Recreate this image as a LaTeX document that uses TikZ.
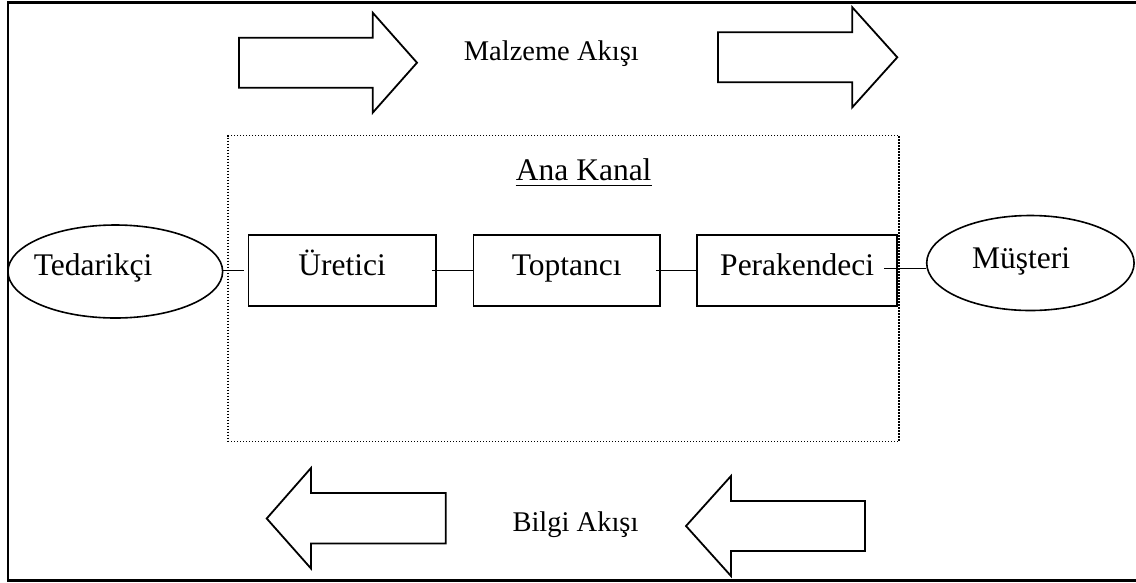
\documentclass[tikz,border=0pt]{standalone}
\usepackage{fontspec}
\setmainfont{Liberation Serif}
\usetikzlibrary{shapes.geometric,calc}
\tikzset{
  frameline/.style={line width=2.4pt},
  flowarrow/.style={draw, line width=1.8pt, line join=miter, fill=white},
  kanalbox/.style={draw, line width=1.3pt, dash pattern=on 1.3pt off 1.7pt, inner sep=0pt},
  stepbox/.style={draw, line width=1.6pt, rectangle, inner sep=0pt, minimum height=71pt,
    font=\fontsize{31.5}{36}\selectfont, text height=15.3pt, text depth=6.3pt},
  endell/.style={draw, line width=1.6pt, ellipse, inner sep=0pt},
  biglbl/.style={inner sep=0pt, font=\fontsize{31.5}{36}\selectfont, anchor=base},
  flowlbl/.style={inner sep=0pt, font=\fontsize{28.5}{34}\selectfont, anchor=base},
  conn/.style={line width=1.8pt}
}
\begin{document}
\begin{tikzpicture}[x=1pt,y=-1pt]
\useasboundingbox (0,0) rectangle (1136,582);
\fill[white] (0,0) rectangle (1136,582);
% outer frame (open on the right, cropped)
\draw[frameline] (1140,2.5) -- (7.8,2.5) -- (7.8,580.5) -- (1140,580.5);

% material flow arrows (top)
\draw[flowarrow] (239,37.7) -- (372.7,37.7) -- (372.7,12.7) -- (417,62.7) -- (372.7,112.7) -- (372.7,87.7) -- (239,87.7) -- cycle;
\draw[flowarrow] (718,32.3) -- (852.3,32.3) -- (852.3,7.3) -- (897.3,57.3) -- (852.3,107.3) -- (852.3,82.3) -- (718,82.3) -- cycle;
\node[flowlbl] (malz) at (551.3,60) {Malzeme Akışı};

% information flow arrows (bottom)
\draw[flowarrow] (445.7,493) -- (311,493) -- (311,468) -- (266.7,518.5) -- (311,568.5) -- (311,543.5) -- (445.7,543.5) -- cycle;
\draw[flowarrow] (865,501) -- (731,501) -- (731,476) -- (686,526) -- (731,576) -- (731,551) -- (865,551) -- cycle;
\node[flowlbl] (bilgi) at (575.5,531) {Bilgi Akışı};

% main channel
\node[kanalbox, minimum width=671pt, minimum height=306pt] (kanal) at (563.5,288.7) {};
\node[biglbl] (ana) at (583.7,180.7) {Ana Kanal};
\draw[line width=1.5pt] ([yshift=-5pt]ana.base west) -- ([yshift=-5pt]ana.base east);

\node[stepbox, minimum width=187.7pt] (ure) at (342.2,270.5) {Üretici};
\node[stepbox, minimum width=186.7pt] (top) at (566.7,270.5) {Toptancı};
\node[stepbox, minimum width=200pt] (per) at (797.2,270.5) {Perakendeci};

% end points
\node[endell, minimum width=214.7pt, minimum height=93pt] (ted) at (115.3,271.5) {};
\node[biglbl] (tedt) at (93,275) {Tedarikçi};
\node[endell, minimum width=207.4pt, minimum height=95pt] (mus) at (1030.4,263) {};
\node[biglbl] (must) at (1021,268.3) {Müşteri};

% connectors
\draw[conn] (ted.east |- ure.west) -- ([xshift=-4pt]ure.west);
\draw[conn] ([xshift=-5pt]ure.east) -- (top.west);
\draw[conn] ([xshift=-5pt]top.east) -- (per.west);
\draw[conn] ([xshift=-14pt,yshift=2pt]per.east) -- ([yshift=2pt]per.east -| mus.west);
\end{tikzpicture}
\end{document}
